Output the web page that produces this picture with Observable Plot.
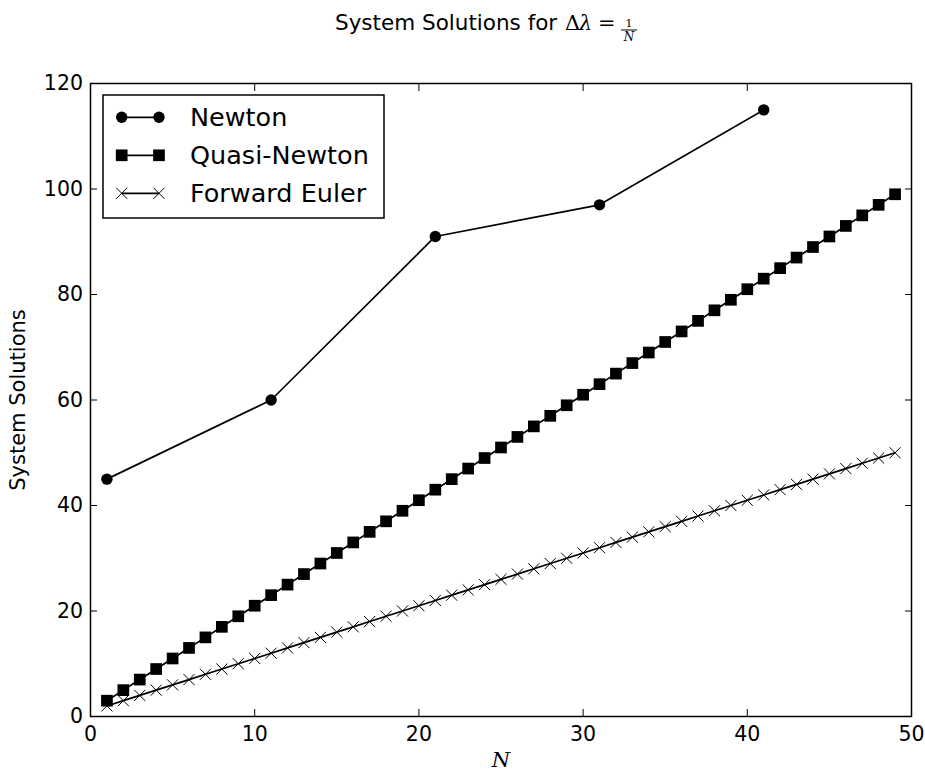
<!DOCTYPE html>
<html><head><meta charset="utf-8">
<script src="https://cdn.jsdelivr.net/npm/d3@7"></script>
<script src="https://cdn.jsdelivr.net/npm/@observablehq/plot@0.6"></script>
<style>body{margin:0;background:#fff;} #chart{width:925px;height:771px;}</style>
</head><body><div id="chart"></div>
<script>
const titleLead = "System Solutions for ";
const xLabel = "N";
const yLabel = "System Solutions";
const xTicks = [0, 10, 20, 30, 40, 50];
const yTicks = [0, 20, 40, 60, 80, 100, 120];
const seriesNames = ["Newton", "Quasi-Newton", "Forward Euler"];

const newtonN = [1, 11, 21, 31, 41];
const newtonSolutions = [45, 60, 91, 97, 115];

const quasiN = [1,2,3,4,5,6,7,8,9,10,11,12,13,14,15,16,17,18,19,20,21,22,23,24,25,26,27,28,29,30,31,32,33,34,35,36,37,38,39,40,41,42,43,44,45,46,47,48,49];
const quasiSolutions = [3,5,7,9,11,13,15,17,19,21,23,25,27,29,31,33,35,37,39,41,43,45,47,49,51,53,55,57,59,61,63,65,67,69,71,73,75,77,79,81,83,85,87,89,91,93,95,97,99];

const eulerN = [1,2,3,4,5,6,7,8,9,10,11,12,13,14,15,16,17,18,19,20,21,22,23,24,25,26,27,28,29,30,31,32,33,34,35,36,37,38,39,40,41,42,43,44,45,46,47,48,49];
const eulerSolutions = [2,3,4,5,6,7,8,9,10,11,12,13,14,15,16,17,18,19,20,21,22,23,24,25,26,27,28,29,30,31,32,33,34,35,36,37,38,39,40,41,42,43,44,45,46,47,48,49,50];

const toRows = (ns, vs, s) => ns.map((n, i) => ({series: s, n, v: vs[i]}));
const newton = toRows(newtonN, newtonSolutions, seriesNames[0]);
const quasi = toRows(quasiN, quasiSolutions, seriesNames[1]);
const euler = toRows(eulerN, eulerSolutions, seriesNames[2]);

const styles = [
  {name: seriesNames[0], data: newton, symbol: "circle", r: 5.7, fill: "black", stroke: "none", sw: 0, d3sym: d3.symbolCircle},
  {name: seriesNames[1], data: quasi, symbol: "square", r: 6.6, fill: "black", stroke: "none", sw: 0, d3sym: d3.symbolSquare},
  {name: seriesNames[2], data: euler, symbol: "times", r: 5.1, fill: "none", stroke: "black", sw: 1, d3sym: d3.symbolTimes}
];

const seriesMarks = styles.flatMap(s => [
  Plot.line(s.data, {x: "n", y: "v", stroke: "black", strokeWidth: 1.7}),
  Plot.dot(s.data, {x: "n", y: "v", symbol: () => s.symbol, r: s.r, fill: s.fill, stroke: s.stroke, strokeWidth: s.sw})
]);

const plot = Plot.plot({
  width: 925, height: 771,
  marginLeft: 90, marginRight: 14, marginTop: 83, marginBottom: 55,
  style: {fontFamily: "DejaVu Sans", fontSize: "20.5px", background: "white", color: "black", overflow: "visible"},
  x: {domain: [0, 50], ticks: xTicks},
  y: {domain: [0, 120], ticks: yTicks},
  marks: [
    Plot.axisX(xTicks, {anchor: "bottom", tickSize: -7, tickPadding: 17, label: null}),
    Plot.axisX(xTicks, {anchor: "top", tickSize: -7, tickFormat: () => "", label: null}),
    Plot.axisY(yTicks, {anchor: "left", tickSize: -7, tickPadding: 14.5, label: null}),
    Plot.axisY(yTicks, {anchor: "right", tickSize: -7, tickFormat: () => "", label: null}),
    ...seriesMarks,
    Plot.frame({stroke: "black", strokeWidth: 1.5}),
    Plot.text([xLabel], {text: d => d, frameAnchor: "bottom", textAnchor: "middle", lineAnchor: "middle", dy: 44, fontFamily: "DejaVu Serif", fontStyle: "italic", fontSize: 21}),
    Plot.text([yLabel], {text: d => d, frameAnchor: "left", textAnchor: "middle", lineAnchor: "middle", rotate: -90, dx: -72, fontSize: 21})
  ]
});
document.getElementById("chart").appendChild(plot);

const svg = d3.select(plot);
// Title
const t = svg.append("g").attr("fill", "black").attr("text-anchor", "start");
t.append("text").attr("x", 335).attr("y", 30).attr("font-family", "DejaVu Sans").attr("font-size", 21.5).text(titleLead);
t.append("text").attr("x", 565).attr("y", 30).attr("font-family", "DejaVu Serif").attr("font-size", 21).text("Δ");
t.append("text").attr("x", 579).attr("y", 30).attr("font-family", "DejaVu Serif").attr("font-style", "italic").attr("font-size", 21).text("λ");
t.append("text").attr("x", 598).attr("y", 30).attr("font-family", "DejaVu Serif").attr("font-size", 21).text("=");
t.append("text").attr("x", 629).attr("y", 27).attr("text-anchor", "middle").attr("font-family", "DejaVu Serif").attr("font-size", 11).text("1");
t.append("line").attr("x1", 621).attr("x2", 637).attr("y1", 30).attr("y2", 30).attr("stroke", "black").attr("stroke-width", 1);
t.append("text").attr("x", 629).attr("y", 41).attr("text-anchor", "middle").attr("font-family", "DejaVu Serif").attr("font-style", "italic").attr("font-size", 12).text("N");

// Legend
const lg = svg.append("g").attr("text-anchor", "start");
lg.append("rect").attr("x", 103).attr("y", 95).attr("width", 281).attr("height", 123).attr("fill", "white").attr("stroke", "black").attr("stroke-width", 1.5);
styles.forEach((s, i) => {
  const y = 117.3 + i * 38;
  lg.append("line").attr("x1", 121.7).attr("x2", 159).attr("y1", y).attr("y2", y).attr("stroke", "black").attr("stroke-width", 1.7);
  [121.7, 159].forEach(x => {
    lg.append("path").attr("d", d3.symbol(s.d3sym, Math.PI * s.r * s.r)())
      .attr("transform", `translate(${x},${y})`)
      .attr("fill", s.fill).attr("stroke", s.stroke === "none" ? null : s.stroke).attr("stroke-width", s.sw || null);
  });
  lg.append("text").attr("x", 190).attr("y", y + 8.5).attr("font-family", "DejaVu Sans").attr("font-size", 25.5).text(s.name);
});
</script>
</body></html>
